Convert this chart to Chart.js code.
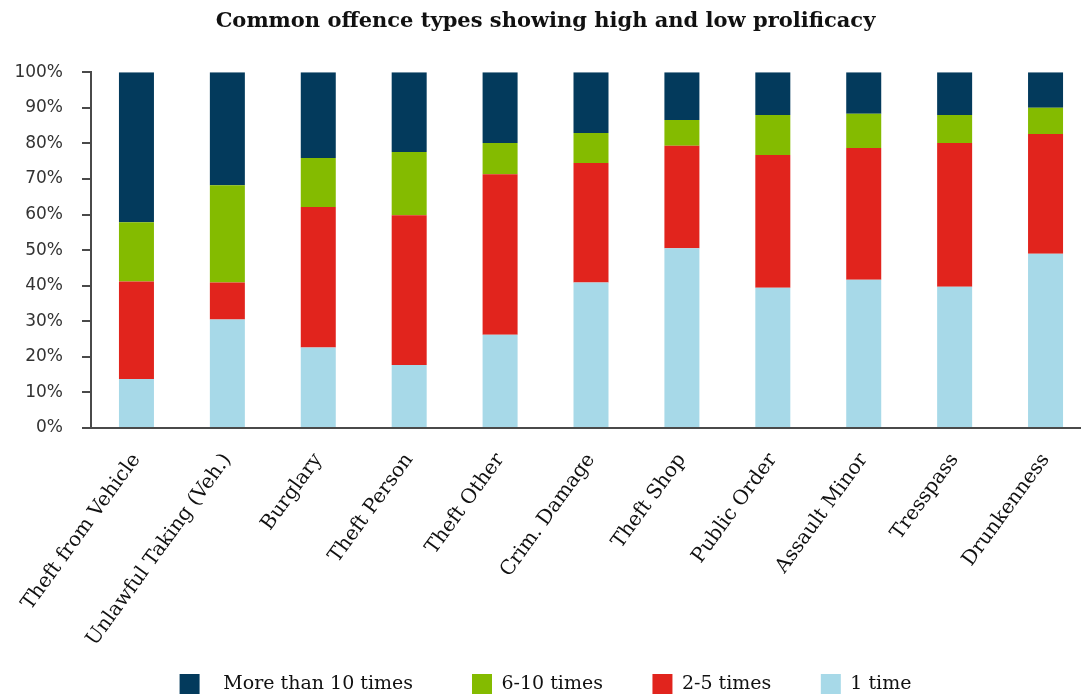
<!DOCTYPE html>
<html>
<head>
<meta charset="utf-8">
<script src="https://cdn.jsdelivr.net/npm/chart.js@4/dist/chart.umd.min.js"></script>
<style>
  html, body { margin: 0; padding: 0; background: #fff; overflow: hidden; }
  /* plot runs a little past the right edge, as in the original */
  #wrap { width: 1091px; height: 695px; position: relative; }
</style>
</head>
<body>
<div id="wrap"><canvas id="chart"></canvas></div>
<script>
const categories = ['Theft from Vehicle', 'Unlawful Taking (Veh.)', 'Burglary', 'Theft Person',
  'Theft Other', 'Crim. Damage', 'Theft Shop', 'Public Order', 'Assault Minor', 'Tresspass', 'Drunkenness'];

// share of offenders (%), bottom of each bar to the top
const oneTime   = [13.8, 30.5, 22.6, 17.7, 26.2, 40.9, 50.5, 39.4, 41.7, 39.7, 49.0];
const twoToFive = [27.4, 10.4, 39.5, 42.1, 45.1, 33.6, 28.8, 37.3, 37.0, 40.4, 33.6];
const sixToTen  = [16.6, 27.3, 13.8, 17.8,  8.8,  8.4,  7.3, 11.3,  9.6,  7.9,  7.4];
const overTen   = [42.2, 31.8, 24.1, 22.4, 19.9, 17.1, 13.4, 12.0, 11.7, 12.0, 10.0];

const yTicks = [0, 10, 20, 30, 40, 50, 60, 70, 80, 90, 100];

const serif = "'DejaVu Serif', serif";
const axisColor = '#4a4a4a';

// extra spacing around legend entries
const legendPad = {
  'More than 10 times': ['\u2002\u2005', '\u2003\u2003\u2003'],
  '6-10 times': ['', '\u2003\u2003\u2002'],
  '2-5 times': ['', '\u2003\u2003\u2002'],
  '1 time': ['', '']
};

function ds(label, data, color) {
  return { label: label, data: data, backgroundColor: color, borderWidth: 0,
           categoryPercentage: 1, barPercentage: 0.385 };
}

new Chart(document.getElementById('chart'), {
  type: 'bar',
  data: {
    labels: categories,
    datasets: [
      ds('1 time', oneTime, '#a7d9e8'),
      ds('2-5 times', twoToFive, '#e1241d'),
      ds('6-10 times', sixToTen, '#84bb00'),
      ds('More than 10 times', overTen, '#033a5c'),
    ]
  },
  options: {
    responsive: true,
    maintainAspectRatio: false,
    animation: false,
    layout: { padding: { left: 0, right: 0, top: 0, bottom: -9 } },
    plugins: {
      title: {
        display: true,
        text: 'Common offence types showing high and low prolificacy',
        color: '#111',
        font: { family: serif, size: 21, weight: 'bold' },
        padding: { top: 9, bottom: 38 }
      },
      legend: {
        position: 'bottom',
        reverse: true,
        labels: {
          color: '#111',
          font: { family: serif, size: 19 },
          boxWidth: 20,
          boxHeight: 20,
          padding: 2,
          generateLabels(chart) {
            const items = Chart.defaults.plugins.legend.labels.generateLabels(chart);
            items.forEach(it => {
              const p = legendPad[it.text] || ['', ''];
              it.text = p[0] + it.text + p[1];
            });
            return items;
          }
        }
      },
      tooltip: { enabled: false }
    },
    scales: {
      x: {
        stacked: true,
        grid: { display: false },
        border: { display: true, color: axisColor, width: 2 },
        ticks: {
          color: '#111',
          font: { family: serif, size: 20 },
          minRotation: 54,
          maxRotation: 54,
          autoSkip: false,
          padding: 13
        },
        afterFit(scale) { scale.height = 244; }
      },
      y: {
        stacked: true,
        min: 0,
        max: 100,
        afterBuildTicks(scale) { scale.ticks = yTicks.map(v => ({ value: v })); },
        grid: { display: true, drawOnChartArea: false, drawTicks: true, tickLength: 9,
                color: axisColor, lineWidth: 2 },
        border: { display: true, color: axisColor, width: 2 },
        ticks: {
          color: '#333',
          font: { family: "'DejaVu Sans', sans-serif", size: 17 },
          padding: 19,
          callback: v => v + '%'
        },
        afterFit(scale) { scale.width = 91; }
      }
    }
  }
});
</script>
</body>
</html>
